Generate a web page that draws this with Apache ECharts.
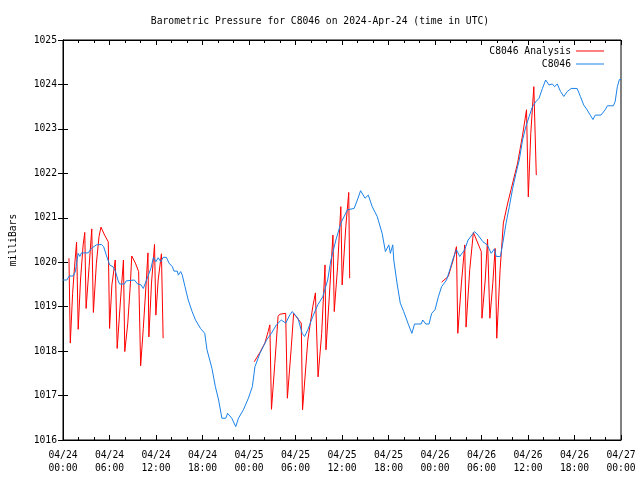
<!DOCTYPE html>
<html>
<head>
<meta charset="utf-8">
<script src="https://cdn.jsdelivr.net/npm/echarts@6/dist/echarts.min.js"></script>
<style>html,body{margin:0;padding:0;background:#fff}#c{width:640px;height:480px}</style>
</head>
<body>
<div id="c"></div>
<script>
// Hours since 2024-04-24 00:00 UTC
const tickDates = ['04/24','04/24','04/24','04/24','04/25','04/25','04/25','04/25','04/26','04/26','04/26','04/26','04/27'];
const tickTimes = ['00:00','06:00','12:00','18:00','00:00','06:00','12:00','18:00','00:00','06:00','12:00','18:00','00:00'];

const stationHours = [0,0.5,0.8,1.3,1.6,1.75,1.96,2.17,2.39,3.24,3.67,4.31,4.95,5.24,5.59,6.01,6.44,6.78,7.08,7.29,7.93,8.15,9.21,9.63,10.06,10.36,10.78,11.34,11.67,11.98,12.28,12.62,12.91,13.34,13.68,14.11,14.32,14.75,14.88,15.18,15.39,15.74,16.16,
16.66,17.10,17.74,18.29,18.58,19.22,19.66,20.08,20.50,21.01,21.23,21.78,22.29,22.64,23.28,23.92,24.43,24.77,25.41,26.26,26.89,27.53,28.17,28.74,29.25,29.58,30.31,30.86,31.17,31.59,32.23,32.87,33.51,34.15,34.57,35.21,35.85,36.70,37.56,37.98,38.40,38.97,39.39,39.90,40.54,41.18,41.60,42.04,42.24,42.55,42.68,43.10,43.52,43.96,44.59,45.02,45.36,46.21,46.42,46.81,47.23,47.57,48.00,48.43,48.85,49.49,49.91,50.35,50.77,51.19,51.83,52.27,53.11,53.55,54.19,54.74,55.25,55.67,55.89,56.44,56.75,57.17,57.59,58.02,58.45,58.87,59.30,59.72,60.15,60.58,61.00,61.43,61.86,62.28,62.70,63.14,63.43,63.78,64.20,64.62,65.06,65.57,66.34,66.76,67.18,67.62,68.04,68.38,68.68,69.41,69.96,70.25,71.02,71.24,71.53,71.79,72];
const stationValues = [1019.6,1019.6,1019.69,1019.69,1019.79,1019.98,1020.2,1020.13,1020.21,1020.21,1020.31,1020.39,1020.4,1020.35,1020.16,1019.94,1019.9,1019.79,1019.6,1019.51,1019.51,1019.58,1019.6,1019.51,1019.49,1019.41,1019.6,1019.86,1020.11,1020.01,1020.1,1020.01,1020.11,1020.11,1019.98,1019.9,1019.8,1019.8,1019.71,1019.79,1019.71,1019.45,1019.15,
1018.89,1018.7,1018.51,1018.4,1018.03,1017.61,1017.2,1016.9,1016.49,1016.49,1016.6,1016.49,1016.3,1016.49,1016.68,1016.94,1017.2,1017.65,1017.95,1018.25,1018.4,1018.59,1018.7,1018.63,1018.81,1018.89,1018.74,1018.4,1018.33,1018.48,1018.78,1019.04,1019.22,1019.6,1020.05,1020.5,1020.88,1021.18,1021.21,1021.4,1021.61,1021.44,1021.51,1021.25,1021.03,1020.65,1020.24,1020.39,1020.2,1020.39,1020.05,1019.53,1019.08,1018.89,1018.59,1018.4,1018.61,1018.61,1018.7,1018.61,1018.61,1018.85,1018.93,1019.22,1019.45,1019.6,1019.83,1020.09,1020.28,1020.13,1020.28,1020.5,1020.69,1020.61,1020.46,1020.39,1020.2,1020.3,1020.13,1020.13,1020.43,1020.88,1021.25,1021.66,1022.0,1022.3,1022.75,1023.05,1023.28,1023.5,1023.61,1023.69,1023.91,1024.1,1023.99,1024.01,1023.95,1024.01,1023.84,1023.73,1023.84,1023.91,1023.91,1023.73,1023.54,1023.43,1023.31,1023.21,1023.31,1023.31,1023.43,1023.52,1023.52,1023.61,1023.95,1024.11,1024.11];

const analysisHours1 = [0.77,0.94,1.24,1.49,1.75,1.96,2.26,2.60,2.81,2.98,3.37,3.71,3.92,4.31,4.65,4.90,5.37,5.84,6.01,6.31,6.74,6.99,7.42,7.80,7.97,8.36,8.70,8.87,9.34,9.76,9.89,10.02,10.36,10.78,10.96,11.08,11.42,11.81,11.98,12.28,12.70,12.92];
const analysisValues1 = [1020.09,1018.18,1019.30,1019.90,1020.45,1018.49,1019.60,1020.39,1020.67,1018.96,1019.90,1020.75,1018.87,1019.98,1020.58,1020.79,1020.61,1020.46,1018.51,1019.49,1020.05,1018.06,1019.15,1020.05,1017.99,1018.63,1019.53,1020.14,1019.98,1019.79,1018.70,1017.67,1018.51,1019.67,1020.21,1018.32,1019.53,1020.40,1018.81,1019.60,1020.19,1018.29];
const analysisHours2 = [24.68,25.41,26.05,26.47,26.69,26.90,27.33,27.75,27.97,28.73,28.95,29.46,29.76,30.74,30.91,31.59,32.23,32.57,32.91,33.38,33.81,33.93,34.36,34.83,35.00,35.43,35.85,36.02,36.49,36.87,36.99];
const analysisValues2 = [1017.76,1017.97,1018.18,1018.44,1018.59,1016.69,1017.72,1018.78,1018.83,1018.85,1016.94,1018.10,1018.85,1018.63,1016.68,1018.25,1019.00,1019.31,1017.42,1018.40,1019.94,1018.03,1019.22,1020.61,1018.89,1019.90,1021.25,1019.49,1020.80,1021.57,1019.64];
const analysisHours3 = [48.85,49.71,50.35,50.77,50.94,51.41,51.84,52.01,52.48,52.95,53.97,54.06,54.48,54.78,55.08,55.46,55.76,55.97,56.40,56.82,57.38,57.81,58.66,59.30,59.81,60.04,60.36,60.75,61.07];
const analysisValues3 = [1019.55,1019.68,1020.05,1020.35,1018.40,1019.53,1020.39,1018.54,1019.83,1020.67,1020.24,1018.74,1019.60,1020.52,1018.74,1019.53,1020.31,1018.29,1019.83,1020.88,1021.33,1021.63,1022.23,1022.86,1023.43,1021.47,1022.90,1023.95,1021.96];

const zip = (a, b) => a.map((v, i) => [v, b[i]]);
const FONT = 'DejaVu Sans Mono';
const RED = '#ff0000', BLUE = '#1a82e8';

const chart = echarts.init(document.getElementById('c'), null, {renderer: 'canvas'});
const xCommon = {
  type: 'value', min: 0, max: 72, interval: 6,
  axisLine: {show: true, lineStyle: {color: '#000', width: 1}},
  axisTick: {show: true, inside: true, length: 5, lineStyle: {color: '#000'}},
  minorTick: {show: true, splitNumber: 3, length: 3, lineStyle: {color: '#000'}},
  splitLine: {show: false}
};
const yCommon = {
  type: 'value', min: 1016, max: 1025, interval: 1,
  axisLine: {show: true, lineStyle: {color: '#000', width: 1}},
  axisTick: {show: true, inside: true, length: 5, lineStyle: {color: '#000'}},
  splitLine: {show: false}
};
const redSeries = (h, v) => ({
  name: 'C8046 Analysis', type: 'line', data: zip(h, v), showSymbol: false, symbol: 'none',
  lineStyle: {color: RED, width: 1}, itemStyle: {color: RED}, z: 2
});
chart.setOption({
  animation: false,
  backgroundColor: '#fff',
  textStyle: {fontFamily: FONT},
  title: {
    text: 'Barometric Pressure for C8046 on 2024-Apr-24 (time in UTC)',
    left: 'center', top: 11,
    textStyle: {fontFamily: FONT, fontSize: 9.7, fontWeight: 'normal', color: '#000'}
  },
  legend: [
    {data: ['C8046 Analysis'], right: 31, top: 41, align: 'right', icon: 'rect', itemWidth: 28, itemHeight: 1,
     textStyle: {fontFamily: FONT, fontSize: 9.7, color: '#000'}},
    {data: ['C8046'], right: 31, top: 54, align: 'right', icon: 'rect', itemWidth: 28, itemHeight: 1,
     textStyle: {fontFamily: FONT, fontSize: 9.7, color: '#000'}}
  ],
  grid: {left: 58, right: 19, top: 40, bottom: 40, show: true, borderColor: '#000', borderWidth: 1},
  xAxis: [
    Object.assign({}, xCommon, {
      position: 'bottom',
      axisLabel: {
        show: true, margin: 9, color: '#000', fontFamily: FONT, fontSize: 9.7, lineHeight: 13,
        showMinLabel: true, showMaxLabel: true,
        formatter: v => { const i = Math.round(v / 6); return tickDates[i] + '\n' + tickTimes[i]; }
      }
    }),
    Object.assign({}, xCommon, {position: 'top', axisLabel: {show: false}})
  ],
  yAxis: [
    Object.assign({}, yCommon, {
      position: 'left',
      name: 'milliBars', nameLocation: 'middle', nameGap: 45, nameRotate: 90,
      nameTextStyle: {fontFamily: FONT, fontSize: 9.7, color: '#000'},
      axisLabel: {show: true, margin: 6, color: '#000', fontFamily: FONT, fontSize: 9.7,
        formatter: v => String(v)}
    }),
    Object.assign({}, yCommon, {position: 'right', axisLabel: {show: false}})
  ],
  series: [
    redSeries(analysisHours1, analysisValues1),
    redSeries(analysisHours2, analysisValues2),
    redSeries(analysisHours3, analysisValues3),
    {
      name: 'C8046', type: 'line', data: zip(stationHours, stationValues), showSymbol: false, symbol: 'none',
      lineStyle: {color: BLUE, width: 1}, itemStyle: {color: BLUE}, z: 3
    }
  ]
});
</script>
</body>
</html>
